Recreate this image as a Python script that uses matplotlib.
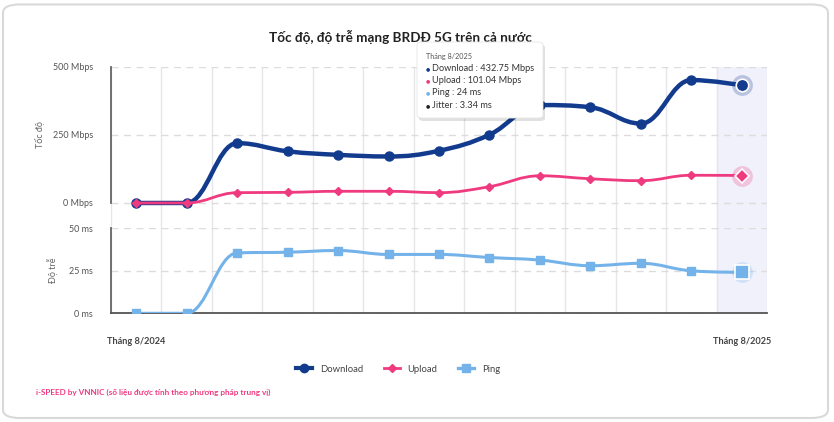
import numpy as np
import matplotlib
matplotlib.use('Agg')
import matplotlib.pyplot as plt
from matplotlib.path import Path
from matplotlib.patches import PathPatch, FancyBboxPatch
from matplotlib.lines import Line2D

plt.rcParams['font.family'] = ['Lato', 'Noto Sans', 'DejaVu Sans']

months = ['Tháng 8/2024', '', '', '', '', '', '', '', '', '', '', '', 'Tháng 8/2025']
download = [0, 0, 220, 190, 177, 171, 192, 251, 360, 352, 292, 452, 432.75]
upload = [0, 0, 38, 39, 43, 43, 38, 60, 100, 89, 82, 102, 101.04]
ping = [0, 0, 35.4, 35.8, 36.8, 34.5, 34.5, 32.7, 31.2, 27.9, 29.3, 24.9, 24]
speed_ticks = [0, 250, 500]
ping_ticks = [0, 25, 50]

c_down = '#123b8d'
c_up = '#f03a80'
c_ping = '#74b3ea'
grid_c = '#e6e6ea'


def spline_path(xs, ys, smoothing=1.5):
    # highcharts-like spline, control points computed from the data
    n = len(xs)
    den = smoothing + 1
    conts = []
    for i in range(n):
        x, y = xs[i], ys[i]
        if i == 0 or i == n - 1:
            conts.append(((x, y), (x, y)))
            continue
        lx, ly = xs[i - 1], ys[i - 1]
        nx, ny = xs[i + 1], ys[i + 1]
        lcx = (smoothing * x + lx) / den
        lcy = (smoothing * y + ly) / den
        rcx = (smoothing * x + nx) / den
        rcy = (smoothing * y + ny) / den
        if rcx != lcx:
            corr = (rcy - lcy) * (rcx - x) / (rcx - lcx) + y - rcy
            lcy += corr
            rcy += corr
        if lcy > ly and lcy > y:
            lcy = max(ly, y)
            rcy = 2 * y - lcy
        elif lcy < ly and lcy < y:
            lcy = min(ly, y)
            rcy = 2 * y - lcy
        if rcy > ny and rcy > y:
            rcy = max(ny, y)
            lcy = 2 * y - rcy
        elif rcy < ny and rcy < y:
            rcy = min(ny, y)
            lcy = 2 * y - rcy
        conts.append(((lcx, lcy), (rcx, rcy)))
    verts = [(xs[0], ys[0])]
    codes = [Path.MOVETO]
    for i in range(1, n):
        verts += [conts[i - 1][1], conts[i][0], (xs[i], ys[i])]
        codes += [Path.CURVE4] * 3
    return Path(verts, codes)


def draw_series(ax, ys, color, lw, marker, ms, big_ms, z):
    xs = np.arange(len(ys))
    ax.add_patch(PathPatch(spline_path(xs, ys), fill=False, edgecolor=color,
                           lw=lw, capstyle='round', joinstyle='round', zorder=z))
    ax.plot(xs[:-1], ys[:-1], ls='none', marker=marker, ms=ms, color=color,
            mec=color, zorder=z + 0.1)
    ax.plot(xs[-1], ys[-1], ls='none', marker='o', ms=15, color=color,
            alpha=0.25, mew=0, zorder=z + 0.1)
    ax.plot(xs[-1], ys[-1], ls='none', marker=marker, ms=big_ms, color=color,
            mec='white', mew=1.2, zorder=z + 0.2)


fig = plt.figure(figsize=(8.34, 4.22), dpi=100)

# card border
card = FancyBboxPatch((3 / 834, 4 / 422), 825 / 834, 0.98, transform=fig.transFigure,
                      boxstyle='round,pad=0,rounding_size=0.02', fc='white',
                      ec='#d9d9d9', lw=1.5, zorder=-5)
fig.patches.append(card)

ax1 = fig.add_axes([111 / 834, 1 - 228 / 422, 656 / 834, 161 / 422])
ax2 = fig.add_axes([111 / 834, 1 - 313.3 / 422, 656 / 834, 85.3 / 422])

n = len(download)
for ax in (ax1, ax2):
    ax.set_xlim(-0.5, n - 0.5)
    ax.set_facecolor('none')
    ax.axvspan(n - 1.5, n - 0.5, color='#f1f1fc', zorder=0)
    ax.set_xticks(np.arange(-0.5, n), minor=True)
    ax.grid(which='minor', axis='x', color=grid_c, lw=1, zorder=0.5)
    ax.grid(which='major', axis='y', color='#dcdcdc', lw=1, ls=(0, (5, 4)), zorder=0.5)
    ax.tick_params(which='both', length=0)
    ax.tick_params(axis='y', labelsize=6.5, labelcolor='#555555', pad=13)
    for s in ('top', 'right'):
        ax.spines[s].set_visible(False)
    ax.spines['left'].set_color('#666666')
    ax.spines['left'].set_linewidth(1.3)

ax1.set_ylim(-92, 500)
ax1.set_yticks(speed_ticks)
ax1.set_yticklabels([f'{v} Mbps' for v in speed_ticks])
ax1.spines['left'].set_bounds(0, 500)
ax1.spines['bottom'].set_visible(False)
ax1.set_xticks([])

ax2.set_ylim(0, 50)
ax2.set_yticks(ping_ticks)
ax2.set_yticklabels([f'{v} ms' for v in ping_ticks])
ax2.spines['bottom'].set_color('#555555')
ax2.spines['bottom'].set_linewidth(1.3)
ax2.set_xticks(np.arange(n))
ax2.set_xticklabels(months, fontsize=6.6, color='#444444', fontweight='bold')
ax2.tick_params(axis='x', pad=17)

draw_series(ax1, download, c_down, 3.2, 'o', 6.5, 9, 3)
draw_series(ax1, upload, c_up, 2.0, 'D', 4.5, 7.5, 4)
draw_series(ax2, ping, c_ping, 2.2, 's', 6, 9.5, 3)

fig.text(40 / 834, 1 - 135 / 422, 'Tốc độ', rotation=90, ha='center', va='center',
         fontsize=6.5, color='#666666')
fig.text(53 / 834, 1 - 270 / 422, 'Độ trễ', rotation=90, ha='center', va='center',
         fontsize=6.5, color='#666666')

fig.text(400 / 834, 1 - 37 / 422, 'Tốc độ, độ trễ mạng BRDĐ 5G trên cả nước',
         ha='center', va='center', fontsize=9.7, fontweight='bold', color='#222222')

# tooltip
shadow = FancyBboxPatch((419 / 834, 1 - 121 / 422), 126 / 834, 76 / 422,
                        transform=fig.transFigure, boxstyle='round,pad=0,rounding_size=0.006',
                        fc='#000000', alpha=0.12, ec='none', zorder=20)
tip = FancyBboxPatch((417 / 834, 1 - 118 / 422), 126 / 834, 76 / 422,
                     transform=fig.transFigure, boxstyle='round,pad=0,rounding_size=0.006',
                     fc='white', ec='#e6e6e6', lw=0.6, zorder=21)
fig.patches.extend([shadow, tip])
fig.text(426 / 834, 1 - 56.5 / 422, 'Tháng 8/2025', fontsize=5.2, color='#555555',
         va='center', zorder=22)
tip_rows = [('Download : 432.75 Mbps', c_down), ('Upload : 101.04 Mbps', c_up),
            ('Ping : 24 ms', c_ping), ('Jitter : 3.34 ms', '#222222')]
for k, (txt, col) in enumerate(tip_rows):
    yy = 1 - (68.3 + 12.3 * k) / 422
    fig.text(428 / 834, yy, '●', fontsize=3.5, color=col, ha='center', va='center',
             family='DejaVu Sans', zorder=22)
    fig.text(432.5 / 834, yy, txt, fontsize=6.6, color='#333333', va='center', zorder=22)

handles = [Line2D([], [], color=c_down, lw=3, marker='o', ms=6),
           Line2D([], [], color=c_up, lw=2, marker='D', ms=4.5),
           Line2D([], [], color=c_ping, lw=2.4, marker='s', ms=6)]
fig.legend(handles, ['Download', 'Upload', 'Ping'], loc='center',
           bbox_to_anchor=(398 / 834, 1 - 369 / 422), ncol=3, frameon=False,
           fontsize=6.8, handlelength=1.7, handletextpad=0.8, columnspacing=2.2,
           labelcolor='#444444')

fig.text(36 / 834, 1 - 392 / 422,
         'i-SPEED by VNNIC (số liệu được tính theo phương pháp trung vị)',
         fontsize=5.9, fontweight='bold', color=c_up, va='center')

fig.savefig('out.png', dpi=100)
